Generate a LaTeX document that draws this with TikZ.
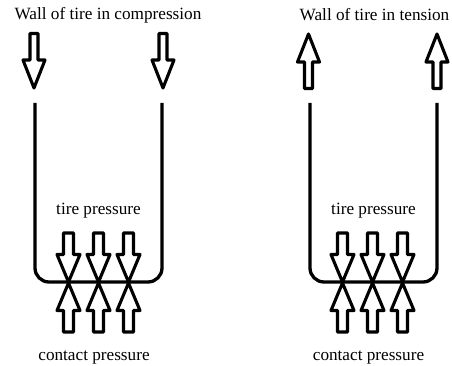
\documentclass[tikz,border=0pt]{standalone}
\usepackage{fontspec}
\setmainfont{Liberation Serif}
\usetikzlibrary{positioning}
\usetikzlibrary{calc}

\tikzset{
    outline/.style={draw=black, line width=3.1pt, line join=round, fill=white},
    wall/.style={draw=black, line width=3.3pt, rounded corners=14pt},
    label/.style={inner sep=0pt, font=\fontsize{17.2}{20}\selectfont},
    % block arrows, drawn from the tail, pointing down
    pics/bigarrow/.style={code={
        \draw[outline] (-4,0) -- (4,0) -- (4,26.5) -- (11,26.5) -- (0,54.5)
            -- (-11,26.5) -- (-4,26.5) -- cycle;
    }},
    pics/smallarrow/.style={code={
        \draw[outline] (-5,0) -- (5,0) -- (5,21.5) -- (11.5,21.5) -- (0,49)
            -- (-11.5,21.5) -- (-5,21.5) -- cycle;
    }},
}

\begin{document}
\begin{tikzpicture}[x=1pt, y=-1pt]
    \useasboundingbox (0,0) rectangle (452,366);

    % Compression side
    \node[label] (comptitle) at (108,15) {Wall of tire in compression};
    \pic (compL) at (34,33.5) {bigarrow};
    \pic (compR) at (163,33.5) {bigarrow};

    \coordinate (compwallL) at (35,103);
    \coordinate (compwallR) at (162,103);
    \draw[wall] (compwallL) -- (35,282) -- (162,282) -- (compwallR);

    \node[label] (comptire) at (98.5,211) {tire pressure};
    \pic (comptireA) at (68.5,233) {smallarrow};
    \pic (comptireB) at (98.5,233) {smallarrow};
    \pic (comptireC) at (128.5,233) {smallarrow};
    \pic[rotate=180] (compcontA) at (68.5,332) {smallarrow};
    \pic[rotate=180] (compcontB) at (98.5,332) {smallarrow};
    \pic[rotate=180] (compcontC) at (128.5,332) {smallarrow};
    \node[label] (compcontact) at (94,357) {contact pressure};

    % Tension side
    \node[label] (tenstitle) at (374.5,15) {Wall of tire in tension};
    \pic[rotate=180] (tensL) at (308.5,88.5) {bigarrow};
    \pic[rotate=180] (tensR) at (437,88.5) {bigarrow};

    \coordinate (tenswallL) at (310,103);
    \coordinate (tenswallR) at (437,103);
    \draw[wall] (tenswallL) -- (310,282) -- (437,282) -- (tenswallR);

    \node[label] (tenstire) at (373.5,211) {tire pressure};
    \pic (tenstireA) at (342.5,233) {smallarrow};
    \pic (tenstireB) at (372.5,233) {smallarrow};
    \pic (tenstireC) at (402.5,233) {smallarrow};
    \pic[rotate=180] (tenscontA) at (342.5,332) {smallarrow};
    \pic[rotate=180] (tenscontB) at (372.5,332) {smallarrow};
    \pic[rotate=180] (tenscontC) at (402.5,332) {smallarrow};
    \node[label] (tenscontact) at (368.5,357) {contact pressure};
\end{tikzpicture}
\end{document}
